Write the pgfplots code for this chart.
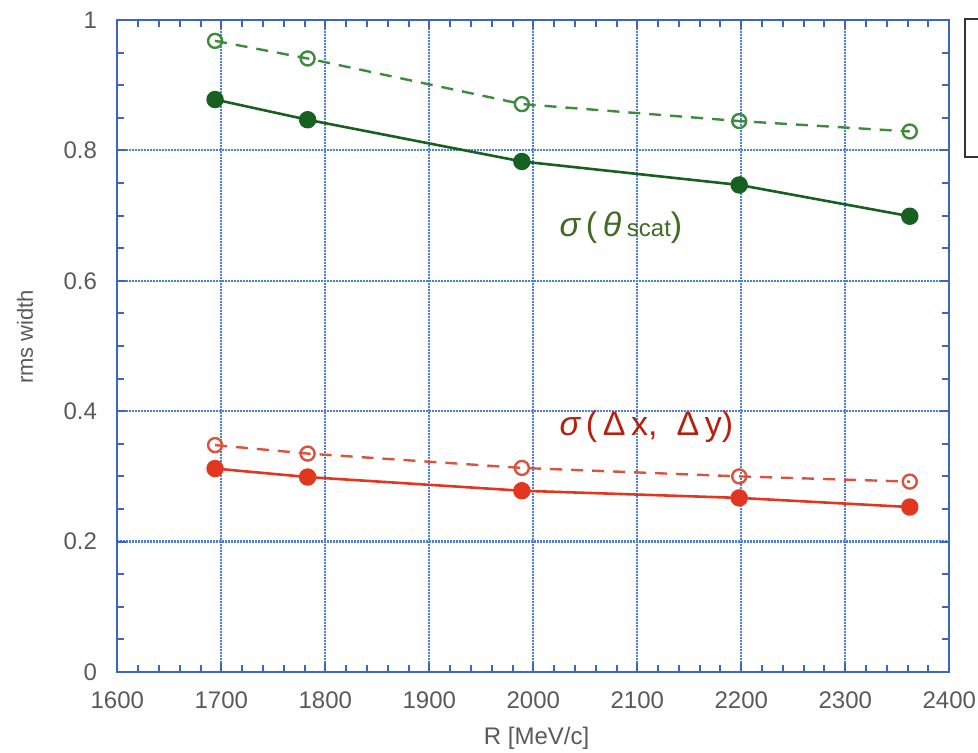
\documentclass[border=0pt]{standalone}
\usepackage{pgfplots}
\pgfplotsset{compat=1.18}
\usepackage{fontspec}
\setmainfont{Liberation Sans}
\definecolor{axblue}{HTML}{3B66C4}
\definecolor{gridblue}{HTML}{4C7FD8}
\definecolor{gdark}{HTML}{17601F}
\definecolor{glight}{HTML}{3C8C3C}
\definecolor{gtext}{HTML}{3F6B22}
\definecolor{rsolid}{HTML}{E2371E}
\definecolor{rdash}{HTML}{D9533E}
\definecolor{rtext}{HTML}{B8200E}
\definecolor{ticktext}{HTML}{5A5A5A}
\begin{document}
\begin{tikzpicture}
\path[use as bounding box] (0,0) rectangle (489pt,376.5pt);
\begin{axis}[
  at={(58.65pt,40.5pt)}, anchor=south west,
  scale only axis, width=416pt, height=326pt,
  xmin=1600, xmax=2400, ymin=0, ymax=1,
  xtick={1600,1700,...,2400}, ytick={0,0.2,0.4,0.6,0.8,1},
  minor x tick num=4, minor y tick num=3,
  tick align=inside,
  major tick length=4.5pt, minor tick length=3.5pt,
  axis line style={axblue, line width=1.1pt},
  every tick/.style={axblue, line width=1pt},
  grid=major,
  major grid style={gridblue, line width=1.1pt, dash pattern=on 0.8pt off 0.7pt},
  /pgf/number format/1000 sep={},
  /pgf/number format/assume math mode=true,
  scaled x ticks=false,
  tick label style={font=\fontsize{12}{12}\selectfont, text=ticktext, inner sep=0pt},
  xticklabel style={anchor=center, yshift=-14pt},
  yticklabel style={anchor=east, xshift=-10pt},
  xlabel={R [MeV/c]}, ylabel={rms width},
  every axis x label/.style={at={(axis description cs:0.504,-0.101)}, anchor=center, font=\fontsize{12}{12}\selectfont, text=ticktext},
  every axis y label/.style={at={(axis description cs:-0.111,0.514)}, anchor=center, rotate=90, font=\fontsize{11}{11}\selectfont, text=ticktext},
  clip=false,
]
% green dashed, open
\addplot[glight, line width=1.2pt, dash pattern=on 6pt off 4.5pt, mark=o, mark size=3.5pt, mark options={solid, fill=white, line width=1.2pt}]
  coordinates {(1694,0.968) (1783,0.941) (1989,0.871) (2198,0.845) (2362,0.829)};
% green solid, filled
\addplot[gdark, line width=1.3pt, mark=*, mark size=3.7pt, mark options={fill=gdark}]
  coordinates {(1694,0.878) (1783,0.847) (1989,0.783) (2198,0.747) (2362,0.699)};
% red dashed, open
\addplot[rdash, line width=1.2pt, dash pattern=on 6pt off 4.5pt, mark=o, mark size=3.5pt, mark options={solid, fill=white, line width=1.2pt}]
  coordinates {(1694,0.348) (1783,0.335) (1989,0.313) (2198,0.300) (2362,0.292)};
% red solid, filled
\addplot[rsolid, line width=1.3pt, mark=*, mark size=3.7pt, mark options={fill=rsolid}]
  coordinates {(1694,0.312) (1783,0.299) (1989,0.278) (2198,0.267) (2362,0.253)};
\node[anchor=west, inner sep=0pt, text=gtext, font=\fontsize{17}{17}\selectfont] at (axis cs:2025,0.681) {{\itshape σ}\,(\,{\itshape θ}\,{\fontsize{12}{12}\selectfont scat})};
\node[anchor=west, inner sep=0pt, text=rtext, font=\fontsize{17}{17}\selectfont] at (axis cs:2025,0.376) {{\itshape σ}\,(\,Δ\,x,\ \ Δ\,y)};
\end{axis}
\draw[line width=1pt, black!80] (482.5pt,366.85pt) rectangle (500pt,298.15pt);
\end{tikzpicture}
\end{document}
